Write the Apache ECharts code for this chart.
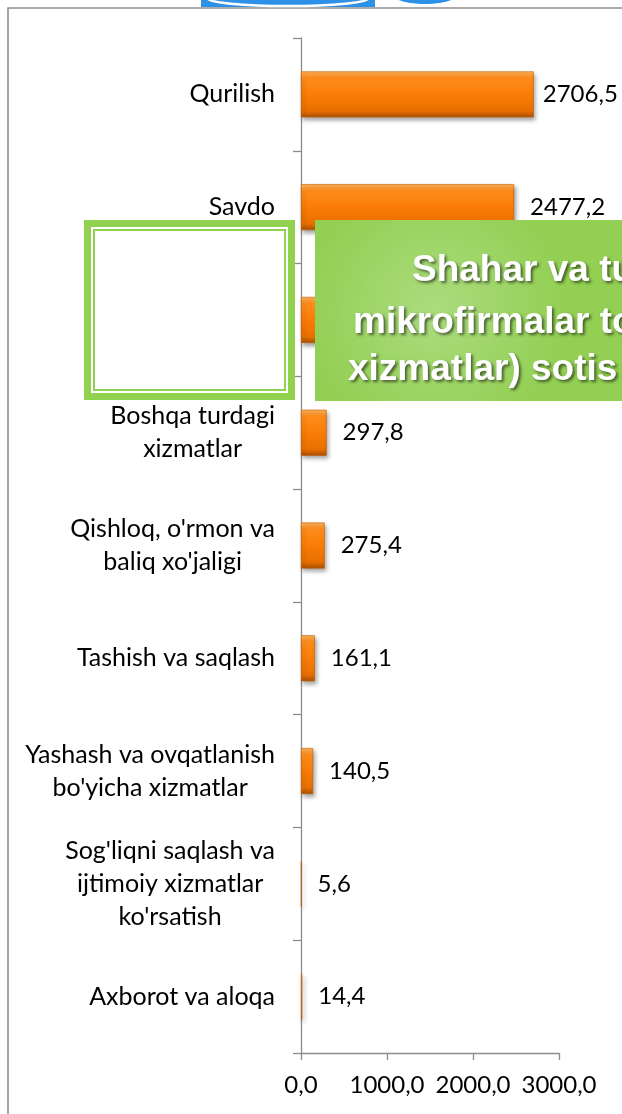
<!DOCTYPE html>
<html><head><meta charset="utf-8">
<script src="https://cdn.jsdelivr.net/npm/echarts@6/dist/echarts.min.js"></script>
<style>html,body{margin:0;padding:0;background:#fff}#c{width:622px;height:1114px}</style>
</head><body><div id="c"></div>
<script>
const categories = ["Qurilish", "Savdo", "Sanoat", "Boshqa turdagi\nxizmatlar", "Qishloq, o'rmon va\nbaliq xo'jaligi", "Tashish va saqlash", "Yashash va ovqatlanish\nbo'yicha xizmatlar", "Sog'liqni saqlash va\nijtimoiy xizmatlar\nko'rsatish", "Axborot va aloqa"];
const values = [2706.5, 2477.2, 1200, 297.8, 275.4, 161.1, 140.5, 5.6, 14.4];
const xMin = 0, xMax = 3000, xStep = 1000;
const overlayLines = ["Shahar va tu", "mikrofirmalar to", "xizmatlar) sotis"];

const fmt = v => Number(v).toFixed(1).replace('.', ',');
const FONT = 'Lato';

const chart = echarts.init(document.getElementById('c'), null, {renderer: 'canvas'});

const barGrad = new echarts.graphic.LinearGradient(0, 0, 0, 1, [
  {offset: 0, color: '#FFB25E'},
  {offset: 0.14, color: '#FF8C1C'},
  {offset: 0.5, color: '#FA7C06'},
  {offset: 0.86, color: '#E86F00'},
  {offset: 1, color: '#A94F00'}
]);

const seriesData = values.map((v, i) => ({
  value: v,
  label: {distance: i === 0 ? 9 : 16}
}));

const greenGrad = new echarts.graphic.RadialGradient(0.3, 0.5, 0.75, [
  {offset: 0, color: '#ABDC7E'},
  {offset: 1, color: '#92CF52'}
]);

const titleFont = 'bold 37px "Liberation Sans", Arial, sans-serif';
const titleStyle = t => ({text: t, fill: '#fff', font: titleFont, verticalAlign: 'middle', textAlign: 'left',
  textShadowColor: 'rgba(0,0,0,0.55)', textShadowBlur: 3, textShadowOffsetX: 2, textShadowOffsetY: 2});

chart.setOption({
  animation: false,
  backgroundColor: '#ffffff',
  grid: {left: 301, right: 63, top: 38, bottom: 61, containLabel: false, outerBoundsMode: 'none'},
  xAxis: {
    type: 'value', min: xMin, max: xMax, interval: xStep,
    axisLine: {show: true, lineStyle: {color: '#8c8c8c', width: 1.3}},
    axisTick: {show: true, length: 7, lineStyle: {color: '#8c8c8c', width: 1.3}},
    splitLine: {show: false},
    axisLabel: {formatter: v => fmt(v), fontFamily: FONT, fontSize: 24, color: '#000', margin: 20}
  },
  yAxis: {
    type: 'category', inverse: true, data: categories,
    axisLine: {show: true, lineStyle: {color: '#8c8c8c', width: 1.3}},
    axisTick: {show: true, length: 8, lineStyle: {color: '#8c8c8c', width: 1.3}},
    axisLabel: {
      margin: 26,
      formatter: v => v.split('\n').map(s => '{c|' + s + '}').join('\n'),
      rich: {c: {align: 'center', fontFamily: FONT, fontSize: 25, color: '#000', lineHeight: 33}}
    }
  },
  series: [{
    type: 'bar',
    data: seriesData,
    barWidth: 46,
    itemStyle: {
      color: barGrad,
      borderColor: '#C25C00', borderWidth: 0.6,
      shadowBlur: 4, shadowColor: 'rgba(0,0,0,0.35)', shadowOffsetX: 2, shadowOffsetY: 3
    },
    label: {
      show: true, position: 'right',
      formatter: p => fmt(p.value),
      fontFamily: FONT, fontSize: 24, color: '#000'
    },
    z: 2
  }],
  graphic: [
    {type: 'rect', z: 1, silent: true, shape: {x: 8, y: 8, width: 1000, height: 2000}, style: {fill: null, stroke: '#8f8f8f', lineWidth: 1.6}},
    {type: 'rect', z: 1, silent: true, shape: {x: 201, y: 0, width: 174, height: 7}, style: {fill: '#2E91E8'}},
    {type: 'ellipse', z: 1, silent: true, shape: {cx: 288, cy: -2, rx: 81, ry: 8}, style: {fill: null, stroke: '#ffffff', lineWidth: 2.5}},
    {type: 'ellipse', z: 1, silent: true, shape: {cx: 425, cy: -6, rx: 33, ry: 10}, style: {fill: '#2E91E8'}},
    {type: 'rect', z: 100, silent: true, shape: {x: 84, y: 220, width: 211, height: 180}, style: {fill: '#92D050'}},
    {type: 'rect', z: 101, silent: true, shape: {x: 91, y: 227, width: 197, height: 166}, style: {fill: '#ffffff'}},
    {type: 'rect', z: 102, silent: true, shape: {x: 94, y: 230, width: 191, height: 160}, style: {fill: null, stroke: '#92D050', lineWidth: 2}},
    {type: 'rect', z: 100, silent: true, shape: {x: 315, y: 220, width: 400, height: 181}, style: {fill: greenGrad}},
    {type: 'text', z: 103, silent: true, x: 412, y: 271, style: titleStyle(overlayLines[0])},
    {type: 'text', z: 103, silent: true, x: 353, y: 323, style: titleStyle(overlayLines[1])},
    {type: 'text', z: 103, silent: true, x: 348, y: 370, style: titleStyle(overlayLines[2])}
  ]
});
</script>
</body></html>
